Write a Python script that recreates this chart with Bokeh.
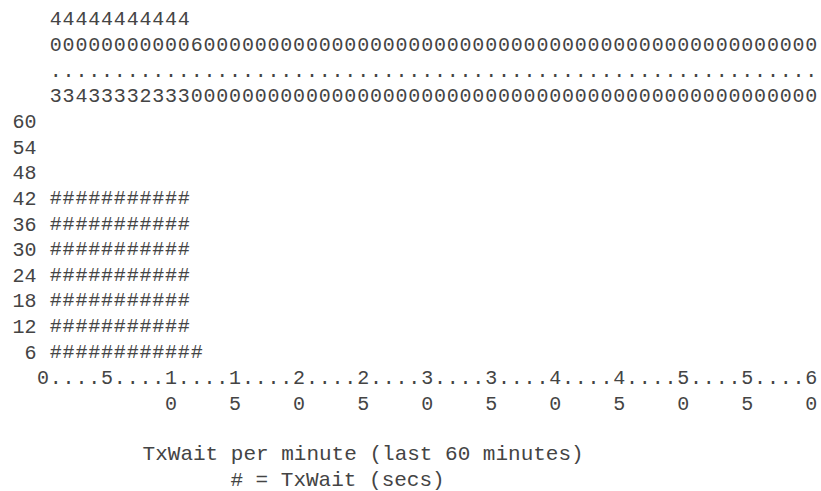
from bokeh.plotting import figure
from bokeh.models import Range1d
from bokeh.core.properties import value
from bokeh.embed import file_html
from bokeh.resources import INLINE

# ---- data ----
minutes = list(range(1, 61))
txwait_secs = [40.3, 40.3, 40.4, 40.3, 40.3, 40.3, 40.3, 40.2, 40.3, 40.3, 40.3, 6.0,
               0.0, 0.0, 0.0, 0.0, 0.0, 0.0, 0.0, 0.0, 0.0, 0.0, 0.0, 0.0,
               0.0, 0.0, 0.0, 0.0, 0.0, 0.0, 0.0, 0.0, 0.0, 0.0, 0.0, 0.0,
               0.0, 0.0, 0.0, 0.0, 0.0, 0.0, 0.0, 0.0, 0.0, 0.0, 0.0, 0.0,
               0.0, 0.0, 0.0, 0.0, 0.0, 0.0, 0.0, 0.0, 0.0, 0.0, 0.0, 0.0]
y_levels = [60, 54, 48, 42, 36, 30, 24, 18, 12, 6]
x_ticks = [0, 5, 10, 15, 20, 25, 30, 35, 40, 45, 50, 55, 60]
x_axis_minutes = list(range(0, 61))
title_text = "TxWait per minute (last 60 minutes)"
legend_text = "# = TxWait (secs)"

FONT = value("Liberation Mono")
SIZE = "20px"
COLOR = "#444444"
STEP = 6  # one text line = one level step

# ---- figure: data x = minute, data y = level ----
p = figure(width=821, height=491, output_backend="svg", toolbar_location=None,
           x_axis_location=None, y_axis_location=None,
           x_range=Range1d(-3.319, 60.796), y_range=Range1d(-26.57, 88.28),
           min_border=0, outline_line_color=None)
p.xgrid.visible = False
p.ygrid.visible = False
p.background_fill_color = "white"
p.border_fill_color = "white"

common = dict(text_font=FONT, text_color=COLOR, text_baseline="alphabetic")

# bars of '#'
hx, hy = [], []
for m, v in zip(minutes, txwait_secs):
    for lvl in y_levels:
        if v > lvl - STEP:
            hx.append(m)
            hy.append(lvl)
p.text(x=hx, y=hy, text=["#"] * len(hx), text_align="center",
       text_font_size=SIZE, **common)

# value labels written vertically above the chart
label_rows = [84, 78, 72, 66]
vx, vy, vt = [], [], []
for m, v in zip(minutes, txwait_secs):
    s = f"{v:.1f}".rjust(len(label_rows))
    for ch, row in zip(s, label_rows):
        if ch != " ":
            vx.append(m)
            vy.append(row)
            vt.append(ch)
p.text(x=vx, y=vy, text=vt, text_align="center", text_font_size=SIZE, **common)

# y-axis labels
p.text(x=[-0.5] * len(y_levels), y=y_levels, text=[str(l) for l in y_levels],
       text_align="right", text_font_size=SIZE, **common)

# x-axis labels: first digit row with dots, second digit row
ax_x, ax_y, ax_t = [], [], []
for m in x_axis_minutes:
    if m in x_ticks:
        s = str(m)
        ax_x.append(m); ax_y.append(0); ax_t.append(s[0])
        if len(s) > 1:
            ax_x.append(m); ax_y.append(-STEP); ax_t.append(s[1])
    else:
        ax_x.append(m); ax_y.append(0); ax_t.append(".")
p.text(x=ax_x, y=ax_y, text=ax_t, text_align="center", text_font_size=SIZE, **common)

# title and legend lines
p.text(x=[25, 23], y=[-3 * STEP, -4 * STEP], text=[title_text, legend_text],
       text_align="center", text_font_size="21px", **common)

open("out.html", "w").write(file_html(p, INLINE))
